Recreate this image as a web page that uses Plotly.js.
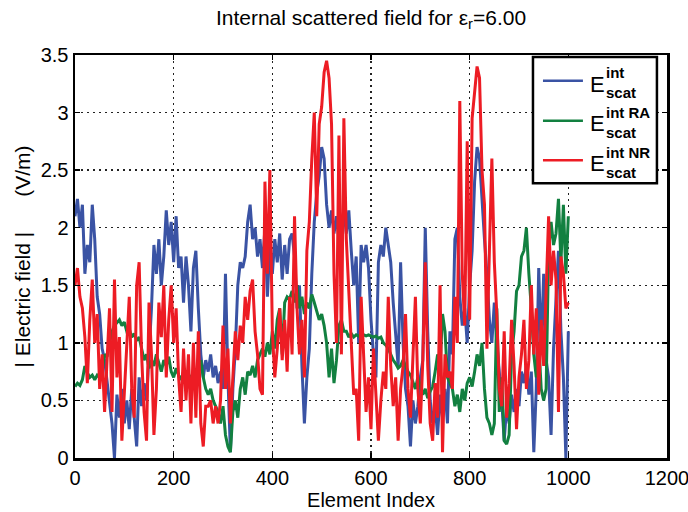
<!DOCTYPE html>
<html>
<head>
<meta charset="utf-8">
<script src="https://cdn.plot.ly/plotly-3.0.1.min.js"></script>
<style>html,body{margin:0;padding:0;background:#fff;}#chart{width:688px;height:512px;}</style>
</head>
<body>
<div id="chart"></div>
<script>
// Element index sampled every 5 elements (0 ... 1000)
const SAMPLE_STEP = 5;

// |E_scat^int| (blue)
const eScat = [
2.1,2.25,2.0,2.2,1.6,1.85,1.7,2.2,1.9,1.4,
1.25,0.95,0.85,0.65,0.5,0.3,0.0,0.55,0.35,0.6,
0.3,0.5,0.25,0.6,0.35,0.1,0.7,0.45,0.65,0.5,
0.9,1.3,1.85,1.6,1.9,1.5,1.75,2.15,1.85,2.05,
1.7,2.1,1.65,1.75,1.35,1.75,1.5,1.1,1.65,1.8,
1.3,0.9,0.7,0.85,0.75,0.9,0.7,0.8,0.65,0.75,
0.6,1.6,0.7,0.05,0.6,0.95,1.5,1.7,1.65,1.75,
2.05,2.2,1.9,2.0,1.75,1.9,1.65,2.0,1.4,1.85,
1.6,1.9,1.7,1.95,1.55,1.85,1.6,1.9,1.95,1.75,
1.3,1.5,0.8,0.3,0.7,0.95,1.6,2.05,2.3,2.45,
2.7,2.6,2.2,2.0,2.15,1.95,2.1,1.9,2.05,2.15,
1.95,2.15,1.8,1.5,1.75,1.0,1.85,1.7,1.85,1.65,
1.2,0.9,0.7,1.7,1.85,1.75,2.0,1.85,1.7,1.35,
1.1,0.8,1.7,1.0,0.6,0.45,0.1,0.5,0.3,0.45,
0.7,0.85,2.0,1.1,0.5,0.3,0.45,0.2,0.55,0.35,
0.6,0.3,1.1,0.9,1.9,2.0,1.4,1.15,1.3,1.0,
1.5,1.8,2.4,2.7,2.6,2.2,1.9,1.6,1.2,1.0,
1.35,1.0,0.75,0.5,0.15,0.45,0.3,0.55,0.4,0.6,
0.45,0.75,0.65,0.8,0.55,0.75,0.05,0.6,1.65,0.9,
1.6,0.85,0.7,0.2,0.95,1.4,1.8,1.1,0.7,0.0,
1.1
];

// |E_scat^int RA| (green)
const eScatRA = [
0.62,0.65,0.63,0.68,0.8,0.74,0.7,0.72,0.68,0.72,
0.7,0.75,0.9,0.88,1.0,1.1,1.15,1.18,1.2,1.15,
1.18,1.1,1.12,1.05,1.08,1.02,1.05,0.95,0.85,0.9,
0.78,0.85,0.8,0.9,0.82,0.75,0.85,0.8,0.88,0.75,
0.7,0.78,0.72,0.68,0.75,0.7,0.65,0.72,0.68,0.6,
0.72,0.85,0.7,0.6,0.55,0.6,0.5,0.45,0.4,0.3,
0.45,0.2,0.1,0.05,0.4,0.5,0.35,0.6,0.7,0.55,
0.75,0.72,0.8,0.7,0.85,0.9,0.95,0.88,1.0,0.9,
1.1,0.95,1.2,1.3,0.9,1.35,1.4,1.38,1.45,1.35,
1.5,1.3,1.4,1.25,1.35,1.3,1.42,1.35,1.28,1.2,
1.25,1.15,1.0,0.7,0.95,0.65,0.85,1.15,1.2,1.1,
1.1,1.05,1.08,1.05,1.07,1.06,1.05,1.07,1.06,1.07,
1.06,1.05,1.06,1.04,1.05,1.0,0.98,0.95,0.9,0.85,
0.82,0.78,0.8,0.85,0.8,0.75,0.72,0.65,0.6,0.7,
0.62,0.55,0.6,0.52,0.58,0.62,0.75,0.9,0.8,1.25,
1.1,0.7,0.65,0.6,0.45,0.55,0.4,0.6,0.5,0.65,
0.7,0.62,0.75,0.9,0.8,1.0,0.6,0.35,0.3,0.2,
0.3,1.3,0.4,0.7,0.15,0.12,0.2,0.9,1.1,1.45,
1.5,1.75,1.8,2.0,1.6,1.3,0.9,0.7,1.0,0.6,
0.5,0.6,1.8,2.05,1.85,1.95,2.25,1.7,2.2,1.6,
2.1
];

// |E_scat^int NR| (red)
const eScatNR = [
1.5,1.65,1.4,1.3,1.05,0.65,1.2,1.55,1.0,1.25,
0.6,0.9,0.4,0.85,1.3,0.4,1.55,0.7,1.05,0.15,
0.55,1.0,1.4,0.6,0.35,1.5,1.7,0.9,0.4,0.15,
1.35,0.9,0.2,0.6,1.35,1.05,1.5,0.7,1.2,1.5,
1.0,1.3,0.7,0.4,0.95,0.5,0.9,0.3,1.0,0.35,
1.1,0.3,0.1,0.45,0.45,0.5,0.3,0.45,0.3,0.5,
1.15,0.6,0.95,0.3,0.7,1.1,0.85,1.15,1.0,1.4,
1.2,1.45,1.55,1.1,0.9,0.6,0.55,2.4,1.6,2.5,
1.1,0.7,0.95,1.3,0.85,1.2,0.75,1.4,0.9,2.1,
1.3,0.9,1.2,0.7,1.8,2.05,2.6,3.0,2.1,2.9,
3.05,3.35,3.45,3.3,2.9,1.6,1.0,2.8,0.9,2.95,
1.9,1.4,0.9,0.55,0.6,0.15,1.4,0.9,0.4,0.7,
0.25,0.95,0.6,0.15,0.5,0.75,0.6,1.4,0.8,0.45,
0.7,0.15,0.6,0.8,1.25,0.6,0.35,0.95,1.4,0.6,
0.3,0.85,1.7,0.8,0.3,0.15,0.65,0.35,1.5,0.05,
0.9,0.7,0.75,0.6,1.4,1.0,3.1,1.6,1.15,2.75,
1.2,2.95,3.2,3.4,3.3,2.5,2.2,0.95,1.8,2.6,
1.7,1.25,0.6,0.45,1.1,0.35,0.65,1.2,0.8,0.25,
0.7,0.9,1.2,0.6,0.85,1.5,0.9,1.3,0.55,1.2,
0.8,1.4,2.1,1.5,1.8,1.55,0.4,1.75,1.6,1.3,
1.35
];

const elementIndex = eScat.map((_, i) => i * SAMPLE_STEP);

const seriesNames = ['E<sup>int</sup><sub>scat</sub>', 'E<sup>int RA</sup><sub>scat</sub>', 'E<sup>int NR</sup><sub>scat</sub>'];
const seriesColors = ['#3a53a4', '#128040', '#ed1c24'];
const seriesData = [eScat, eScatRA, eScatNR];

const FONT = 'Liberation Sans, Arial, Helvetica, sans-serif';

const traces = seriesData.map((ys, k) => ({
  type: 'scatter',
  mode: 'lines',
  x: elementIndex,
  y: ys,
  name: seriesNames[k],
  line: {color: seriesColors[k], width: 3},
  showlegend: false
}));

// custom legend (stacked super/subscripts as in the original)
const L = {x0: 0.7736, x1: 0.983, y0: 0.682, y1: 0.995};
const legendRows = [0.936, 0.837, 0.739];
const supText = ['int', 'int RA', 'int NR'];
const shapes = [
  {type: 'rect', xref: 'paper', yref: 'paper', x0: L.x0, x1: L.x1, y0: L.y0, y1: L.y1,
   line: {color: '#000', width: 2.5}, fillcolor: '#fff', layer: 'above'}
];
const annotations = [];
legendRows.forEach((yy, k) => {
  shapes.push({type: 'line', xref: 'paper', yref: 'paper', x0: 0.7905, x1: 0.858, y0: yy, y1: yy,
    line: {color: seriesColors[k], width: 2.6}, layer: 'above'});
  annotations.push({xref: 'paper', yref: 'paper', x: 0.866, y: yy - 0.008, xanchor: 'left', yanchor: 'middle',
    text: 'E', showarrow: false, font: {family: FONT, size: 22, color: '#000'}});
  annotations.push({xref: 'paper', yref: 'paper', x: 0.893, y: yy + 0.02, xanchor: 'left', yanchor: 'middle',
    text: '<b>' + supText[k] + '</b>', showarrow: false, font: {family: FONT, size: 15, color: '#000'}});
  annotations.push({xref: 'paper', yref: 'paper', x: 0.893, y: yy - 0.03, xanchor: 'left', yanchor: 'middle',
    text: '<b>scat</b>', showarrow: false, font: {family: FONT, size: 15, color: '#000'}});
});

const layout = {
  width: 688, height: 512,
  paper_bgcolor: '#fff', plot_bgcolor: '#fff',
  font: {family: FONT, size: 20, color: '#000'},
  margin: {l: 75, r: 21, t: 55, b: 54},
  title: {text: 'Internal scattered field for ε<sub>r</sub>=6.00', xref: 'paper', x: 0.5, xanchor: 'center',
          yref: 'container', y: 0.966, yanchor: 'middle', font: {family: FONT, size: 21, color: '#000'}},
  xaxis: {
    range: [0, 1200], dtick: 200, tick0: 0, automargin: false,
    showline: true, linecolor: '#000', linewidth: 2.5, mirror: 'ticks',
    ticks: 'inside', ticklen: 5, tickcolor: '#000', tickwidth: 1.5,
    showgrid: true, gridcolor: '#222', gridwidth: 1.3, griddash: '1.5px,4.5px',
    zeroline: false, ticklabeloverflow: 'allow',
    tickfont: {family: FONT, size: 20},
    title: {text: 'Element Index', standoff: 2, font: {family: FONT, size: 20}}
  },
  yaxis: {
    range: [0, 3.5], dtick: 0.5, tick0: 0, automargin: false,
    showline: true, linecolor: '#000', linewidth: 2.5, mirror: 'ticks',
    ticks: 'inside', ticklen: 5, tickcolor: '#000', tickwidth: 1.5,
    showgrid: true, gridcolor: '#222', gridwidth: 1.3, griddash: '1.5px,4.5px',
    zeroline: false,
    tickfont: {family: FONT, size: 20},
    title: {text: '| Electric field |      (V/m)', standoff: 5, font: {family: FONT, size: 21}}
  },
  shapes: shapes,
  annotations: annotations,
  showlegend: false
};

Plotly.newPlot('chart', traces, layout, {displayModeBar: false, staticPlot: true});
</script>
</body>
</html>
